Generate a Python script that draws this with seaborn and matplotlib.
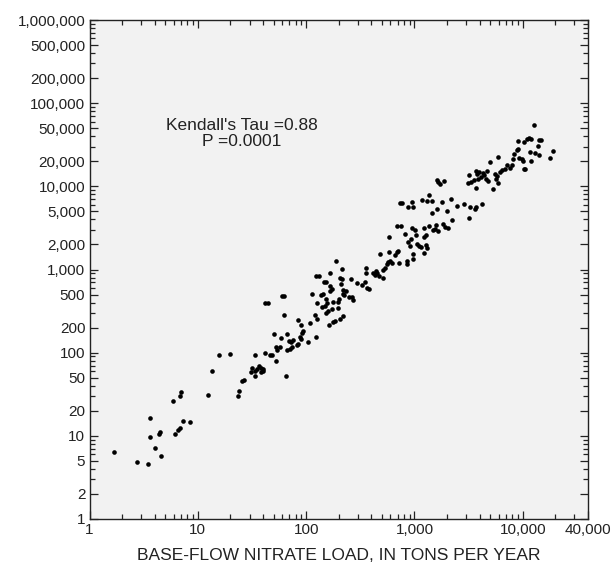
import pandas as pd
import seaborn as sns
import matplotlib.pyplot as plt
from matplotlib.ticker import FixedLocator, FixedFormatter, NullFormatter

# base-flow nitrate load (x) and the paired load on the y axis
base_flow_load = [
    7.0, 6.8, 5.9, 3.6, 7.3, 8.4, 6.9, 6.6, 6.1, 4.45, 4.35, 3.65, 4.05, 4.6, 1.67, 2.76, 3.47,
    13.5, 15.8, 19.8, 12.3, 23.4, 24.0, 25.4, 26.9, 30.8, 31.9, 34.0, 33.7, 34.0, 35.2, 36.7,
    38.4, 40.3, 40.3, 38.4,
    189, 166, 123, 132, 147, 154, 166, 175, 166, 114, 137, 142, 60, 62, 153, 200, 196, 127,
    176, 42, 44.5, 155, 139, 150, 198, 175, 160, 153, 63, 121, 125, 185, 178, 164, 84, 90,
    108, 94, 91, 67, 51, 58, 88, 90, 123, 70, 73, 75, 103, 84, 82, 53, 57, 54, 74, 71, 67,
    41.5, 46.4, 48.1, 52.4, 65,
    213, 207, 216, 210, 220, 234, 218, 225, 251, 220, 207, 264, 273, 261, 293, 330, 348, 363,
    383, 355, 360, 418, 433, 449, 471, 510, 442, 516, 535, 555, 567, 595, 617, 726, 849, 860,
    484, 587, 662, 687, 710, 965, 965, 1219, 587, 819, 925, 1028, 879, 910, 1064, 1110, 1151,
    1315, 1271, 1234, 1280, 950, 1007, 687, 747, 1373, 1234, 1573, 1476, 1540, 1642, 1849,
    1918, 2029, 2239, 3172,
    732, 769, 950, 867, 965, 1627, 1454, 1987, 2459, 2852, 3261, 3630, 3730, 4210, 1373, 1175,
    1315, 1454, 1799, 2163, 1607, 1652, 1722, 1888,
    3706, 3760, 3950, 4273, 4420, 4150, 4653, 4583, 4784, 3866, 3550, 3194, 3148, 3352, 3706,
    5355, 4955, 5957, 5546, 5826, 5671, 5957, 6170, 6442, 6905, 7638, 7211, 7962,
    8318, 8090, 9307, 9795, 10070, 11930, 10210, 10570, 8810, 9057, 11750, 13070, 14060,
    19180, 17990, 13930, 8995, 10210, 11030, 11510, 11930, 14230, 14760, 12710,
]
total_load = [
    33.9, 30.3, 26.4, 16.5, 15.1, 14.5, 12.4, 11.6, 10.6, 11.2, 10.4, 9.7, 7.1, 5.8, 6.4, 4.8, 4.6,
    61, 93, 96, 31.2, 30.1, 34.5, 45.6, 46.5, 59, 66, 52, 93, 60, 64, 70,
    66, 63, 60, 58,
    1262, 898, 840, 840, 711, 711, 637, 576, 555, 506, 492, 506, 479, 479, 437, 437, 409, 398,
    402, 391, 391, 391, 356, 363, 347, 331, 316, 302, 281, 283, 256, 242, 233, 215, 245, 216,
    225, 182, 173, 167, 169, 149, 155, 146, 154, 138, 134, 142, 135, 128, 122, 118, 116, 107, 118, 110, 107,
    98, 93, 95, 79, 53,
    1020, 795, 767, 673, 565, 555, 506, 492, 462, 275, 251, 470, 429, 767, 681, 644, 700, 603,
    581, 1031, 898, 898, 857, 898, 840, 795, 965, 984, 1031, 1161, 1238, 1273, 1184, 1205, 1273, 1151,
    1531, 1618, 1490, 1606, 1663, 1531, 1345, 1562, 2472, 2663, 2301, 2590, 2153, 1928, 2019, 1911, 1859,
    1823, 1982, 2450, 2612, 3119, 2976, 3352, 3352, 3352, 3145, 3388, 2976, 3060, 2896, 3542,
    3206, 3145, 3893, 4182,
    6336, 6336, 6511, 5575, 5623, 5276, 4803, 4990, 5834, 6058, 5623, 5370, 5675, 6166, 7838, 6770,
    6693, 6637, 6511, 7079, 11880, 11230, 10620, 11560,
    15240, 14030, 14690, 14290, 13640, 12790, 15360, 12300, 11650, 12100, 11880, 13520, 11020, 11230, 9440,
    9330, 19540, 22250, 14030, 13270, 12100, 11020, 14930, 15520, 16230, 16410, 17990, 17990,
    24380, 21050, 21640, 21050, 20090, 19920, 16230, 16100, 27230, 28250, 25540, 24850, 23710,
    26710, 22020, 30420, 34670, 33700, 36630, 38290, 37240, 36220, 35640, 54830,
]

x_ticks = [1, 10, 100, 1000, 10000, 40000]
x_labels = ["1", "10", "100", "1,000", "10,000", "40,000"]
y_ticks = [1, 2, 5, 10, 20, 50, 100, 200, 500, 1000, 2000, 5000, 10000, 20000, 50000,
           100000, 200000, 500000, 1000000]
y_labels = [f"{v:,}" for v in y_ticks]

sns.set_style("ticks")
plt.rcParams["font.family"] = ["Liberation Sans", "DejaVu Sans"]

fig = plt.figure(figsize=(6.12, 5.71), dpi=100)
ax = fig.add_axes([89.5 / 612, 1 - 519 / 571, (588 - 89.5) / 612, (519 - 20) / 571])
ax.set_facecolor("#f2f2f2")

df = pd.DataFrame({"base": base_flow_load, "total": total_load})
sns.scatterplot(data=df, x="base", y="total", ax=ax, s=11, color="black",
                linewidth=0, legend=False)

ax.set_xscale("log")
ax.set_yscale("log")
ax.set_xlim(1, 40000)
ax.set_ylim(1, 1000000)

# minor ticks at 2..9 of each decade, except where the labelled ones already sit
x_minor = [k * 10 ** d for d in range(5) for k in range(2, 10) if k * 10 ** d < 40000]
y_minor = [k * 10 ** d for d in range(6) for k in (3, 4, 6, 7, 8, 9)]
ax.xaxis.set_major_locator(FixedLocator(x_ticks))
ax.xaxis.set_major_formatter(FixedFormatter(x_labels))
ax.xaxis.set_minor_locator(FixedLocator(x_minor))
ax.xaxis.set_minor_formatter(NullFormatter())
ax.yaxis.set_major_locator(FixedLocator(y_ticks))
ax.yaxis.set_major_formatter(FixedFormatter(y_labels))
ax.yaxis.set_minor_locator(FixedLocator(y_minor))
ax.yaxis.set_minor_formatter(NullFormatter())

ax.tick_params(which="both", direction="in", top=True, right=True, width=0.9,
               color="#222222", labelsize=11, labelcolor="#222222")
ax.tick_params(which="major", length=6, pad=3)
ax.tick_params(which="minor", length=3.5)
for sp in ax.spines.values():
    sp.set_color("#222222")
    sp.set_linewidth(1.0)

ax.set_xlabel("BASE-FLOW NITRATE LOAD, IN TONS PER YEAR", fontsize=12.5,
              color="#222222")
ax.xaxis.set_label_coords(0.5, -0.058)
ax.set_ylabel("")

ax.text(0.306, 0.7725, "Kendall's Tau =0.88\nP =0.0001", transform=ax.transAxes,
        ha="center", va="center", multialignment="center", fontsize=12.5,
        color="#222222", linespacing=1.1)

plt.savefig("out.png", dpi=100)
